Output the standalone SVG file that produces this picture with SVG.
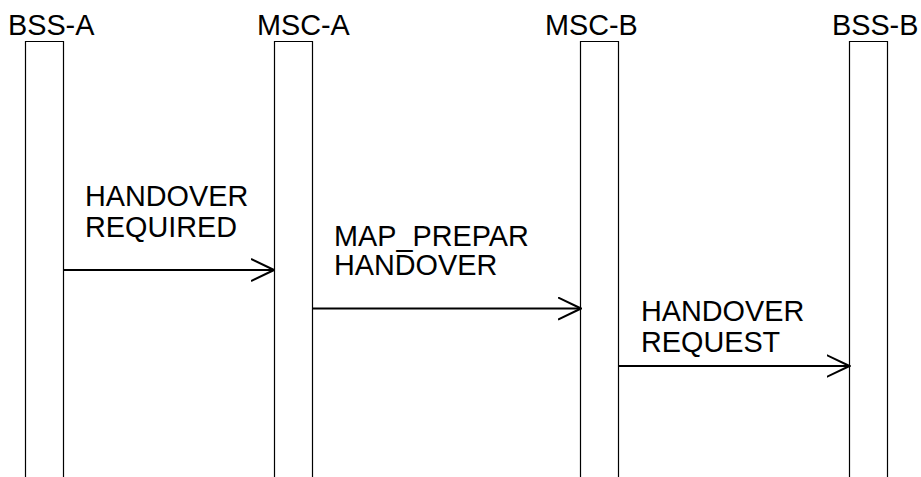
<svg xmlns="http://www.w3.org/2000/svg" width="921" height="477" viewBox="0 0 921 477">
<style>
text{font-family:"Liberation Sans",Arial,sans-serif;font-size:28.8px;fill:#000}
.life{fill:none;stroke:#000;stroke-width:1.2}
.msg{fill:none;stroke:#000;stroke-width:2}
</style>
<defs>
<marker id="open" viewBox="0 0 24 24" refX="23" refY="12" markerWidth="24" markerHeight="24" markerUnits="userSpaceOnUse" orient="auto">
<path d="M0,1 L23,12 L0,23" fill="none" stroke="#000" stroke-width="2"/>
</marker>
</defs>
<rect width="921" height="477" fill="#fff"/>
<g id="bss-a">
<text x="8" y="35">BSS-A</text>
<path class="life" d="M25.5,490 V41.5 H63.5 V490"/>
</g>
<g id="msc-a">
<text x="257" y="35">MSC-A</text>
<path class="life" d="M274.5,490 V41.5 H312.5 V490"/>
</g>
<g id="msc-b">
<text x="545" y="35">MSC-B</text>
<path class="life" d="M580.5,490 V41.5 H618.5 V490"/>
</g>
<g id="bss-b">
<text x="832" y="35">BSS-B</text>
<path class="life" d="M849.5,490 V41.5 H887.5 V490"/>
</g>
<g id="connectors">
<line class="msg" x1="63.5" y1="270" x2="274" y2="270" marker-end="url(#open)"/>
<text x="85" y="206">HANDOVER</text>
<text x="85" y="237">REQUIRED</text>
<line class="msg" x1="312.5" y1="308.5" x2="581" y2="308.5" marker-end="url(#open)"/>
<text x="334" y="246">MAP_PREPAR</text>
<text x="334" y="275">HANDOVER</text>
<line class="msg" x1="618.5" y1="366" x2="849.5" y2="366" marker-end="url(#open)"/>
<text x="641" y="321">HANDOVER</text>
<text x="641" y="352">REQUEST</text>
</g>
</svg>
